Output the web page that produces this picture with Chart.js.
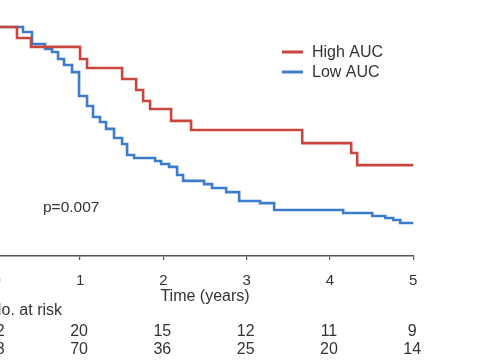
<!DOCTYPE html>
<html>
<head>
<meta charset="utf-8">
<script src="https://cdn.jsdelivr.net/npm/chart.js@4/dist/chart.umd.min.js"></script>
<style>
  html, body { margin: 0; padding: 0; background: #fff; overflow: hidden; }
  #wrap { position: relative; width: 485px; height: 360px; overflow: hidden; }
  #c { position: absolute; left: -60px; top: 0; }
</style>
</head>
<body>
<div id="wrap"><canvas id="c" width="545" height="360"></canvas></div>
<script>
// ---- data ----
const highTimes = [0, 0.243, 0.411, 1.000, 1.084, 1.505, 1.673, 1.757, 1.841, 2.093, 2.333, 3.667, 4.255, 4.327, 5.0];
const highSurv  = [1.0, 0.952, 0.913, 0.860, 0.821, 0.773, 0.725, 0.677, 0.642, 0.590, 0.550, 0.493, 0.450, 0.397, 0.397];

const lowTimes = [0, 0.315, 0.423, 0.580, 0.664, 0.736, 0.808, 0.904, 0.988, 1.084, 1.156, 1.240, 1.312, 1.408, 1.505, 1.565, 1.649, 1.901, 1.973, 2.069, 2.165, 2.237, 2.489, 2.585, 2.754, 2.910, 3.162, 3.330, 4.159, 4.508, 4.664, 4.760, 4.844, 5.0];
const lowSurv  = [1.0, 0.978, 0.926, 0.904, 0.891, 0.860, 0.834, 0.803, 0.699, 0.655, 0.607, 0.585, 0.555, 0.515, 0.489, 0.441, 0.428, 0.415, 0.402, 0.389, 0.354, 0.328, 0.314, 0.297, 0.279, 0.240, 0.231, 0.201, 0.188, 0.175, 0.166, 0.157, 0.144, 0.144];

const seriesNames = ['High AUC', 'Low AUC'];
const tickYears = [0, 1, 2, 3, 4, 5];
const riskHigh = [22, 20, 15, 12, 11, 9];
const riskLow  = [88, 70, 36, 25, 20, 14];
const pValueText = 'p=0.007';
const riskTitle = 'No. at risk';
const xTitle = 'Time (years)';

// ---- styles ----
const SHIFT = 60;            // canvas is shifted left by this many px
const RED = '#c9463f';
const BLUE = '#3d7ccb';
const TEXT = '#333333';
const FONT = '"Liberation Sans", Arial, sans-serif';

function toPoints(ts, ss) { return ts.map((t, i) => ({ x: t, y: ss[i] })); }

const overlay = {
  id: 'overlay',
  afterDraw(chart) {
    const ctx = chart.ctx;
    const xs = chart.scales.x;
    ctx.save();
    // legend
    const leg = [{ c: RED, y: 52 }, { c: BLUE, y: 72 }];
    leg.forEach((l, i) => {
      ctx.strokeStyle = l.c;
      ctx.lineWidth = 3;
      ctx.beginPath();
      ctx.moveTo(282 + SHIFT, l.y);
      ctx.lineTo(303 + SHIFT, l.y);
      ctx.stroke();
      ctx.fillStyle = TEXT;
      ctx.font = '16px ' + FONT;
      ctx.textAlign = 'left';
      ctx.textBaseline = 'middle';
      ctx.fillText(seriesNames[i], 312 + SHIFT, l.y + 1);
    });
    // p-value
    ctx.font = '15.5px ' + FONT;
    ctx.fillStyle = TEXT;
    ctx.textAlign = 'left';
    ctx.textBaseline = 'middle';
    ctx.fillText(pValueText, 43 + SHIFT, 208);
    // risk table
    ctx.font = '16px ' + FONT;
    ctx.fillText(riskTitle, -10 + SHIFT, 311);
    ctx.textAlign = 'center';
    tickYears.forEach((t, i) => {
      const px = xs.getPixelForValue(t) - 1;
      ctx.fillText(String(riskHigh[i]), px, 332);
      ctx.fillText(String(riskLow[i]), px, 350);
    });
    ctx.restore();
  }
};

new Chart(document.getElementById('c'), {
  type: 'line',
  data: {
    datasets: [
      { label: seriesNames[0], data: toPoints(highTimes, highSurv), borderColor: RED, borderWidth: 2.6, stepped: true, pointRadius: 0, fill: false, clip: false, order: 0 },
      { label: seriesNames[1], data: toPoints(lowTimes, lowSurv), borderColor: BLUE, borderWidth: 2.6, stepped: true, pointRadius: 0, fill: false, clip: false, order: 1 }
    ]
  },
  options: {
    responsive: false,
    animation: false,
    devicePixelRatio: 1,
    layout: { padding: { left: 56.75, right: 71.75, top: 27, bottom: 52 } },
    plugins: { legend: { display: false }, tooltip: { enabled: false } },
    scales: {
      x: {
        type: 'linear', min: 0, max: 5,
        afterFit(s) { s.height = 52; },
        ticks: { stepSize: 1, color: TEXT, font: { family: FONT, size: 15 }, padding: 12, maxRotation: 0 },
        grid: { drawOnChartArea: false, drawTicks: true, tickLength: 4, color: '#555', lineWidth: 1.2 },
        border: { display: true, color: '#555', width: 1.5 },
        title: { display: true, text: xTitle, color: TEXT, font: { family: FONT, size: 16 }, padding: { top: 0, bottom: 2 } }
      },
      y: { type: 'linear', min: 0, max: 1, display: false }
    }
  },
  plugins: [overlay]
});
</script>
</body>
</html>
